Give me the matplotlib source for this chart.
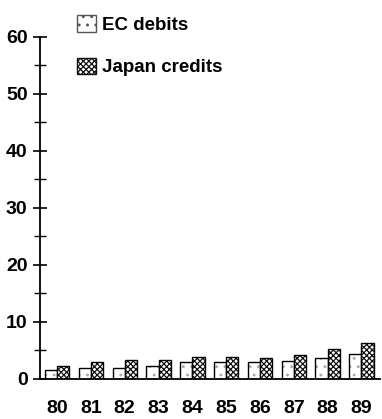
import matplotlib
matplotlib.use('Agg')
import matplotlib.pyplot as plt
import numpy as np
from matplotlib.patches import Patch

years = ['80', '81', '82', '83', '84', '85', '86', '87', '88', '89']
ec_debits = [1.6, 1.9, 2.0, 2.3, 2.9, 3.0, 2.9, 3.2, 3.6, 4.4]
japan_credits = [2.2, 2.9, 3.3, 3.3, 3.8, 3.8, 3.7, 4.2, 5.3, 6.3]
y_ticks = [0, 10, 20, 30, 40, 50, 60]

plt.rcParams['font.family'] = ['Liberation Sans', 'DejaVu Sans']
plt.rcParams['hatch.linewidth'] = 0.9

fig = plt.figure(figsize=(3.82, 4.19), dpi=100)
ax = fig.add_axes([0.105, 0.0955, 0.89, 0.8165])

x = np.arange(len(years))
w = 0.36

# EC debits: light stipple, drawn fill then outline
ax.bar(x - w / 2, ec_debits, w, color='white', edgecolor='#aaaaaa', hatch='..', linewidth=0)
ax.bar(x - w / 2, ec_debits, w, fill=False, edgecolor='black', linewidth=1.0)
# Japan credits: dense cross hatch
ax.bar(x + w / 2, japan_credits, w, color='white', edgecolor='#111111', hatch='xxxxxx', linewidth=0)
ax.bar(x + w / 2, japan_credits, w, fill=False, edgecolor='black', linewidth=1.0)

ax.set_xlim(-0.5, 9.55)
ax.set_ylim(0, 60)
ax.set_yticks(y_ticks)
ax.set_yticks(np.arange(5, 60, 10), minor=True)
ax.set_xticks(x)
ax.set_xticklabels(years)

for s in ['top', 'right']:
    ax.spines[s].set_visible(False)
ax.spines['left'].set_linewidth(1.3)
ax.spines['bottom'].set_linewidth(1.3)

ax.tick_params(axis='y', which='major', direction='inout', length=10, width=1.2, pad=4)
ax.tick_params(axis='y', which='minor', direction='inout', length=8, width=1.0)
ax.tick_params(axis='x', length=0, pad=15)
for lab in ax.get_xticklabels() + ax.get_yticklabels():
    lab.set_fontsize(14)
    lab.set_fontweight('bold')

handles = [
    Patch(facecolor='white', edgecolor='#555555', hatch='..', linewidth=1.0),
    Patch(facecolor='white', edgecolor='#111111', hatch='xxxxxx', linewidth=1.0),
]
fig.legend(handles, ['EC debits', 'Japan credits'], loc='upper left',
           bbox_to_anchor=(68 / 382, 1 - 6 / 419), frameon=False, borderpad=0,
           handlelength=1.0, handleheight=1.0, handletextpad=0.3, labelspacing=1.25,
           prop={'size': 13.5, 'weight': 'bold'})

fig.savefig('out.png', dpi=100)
